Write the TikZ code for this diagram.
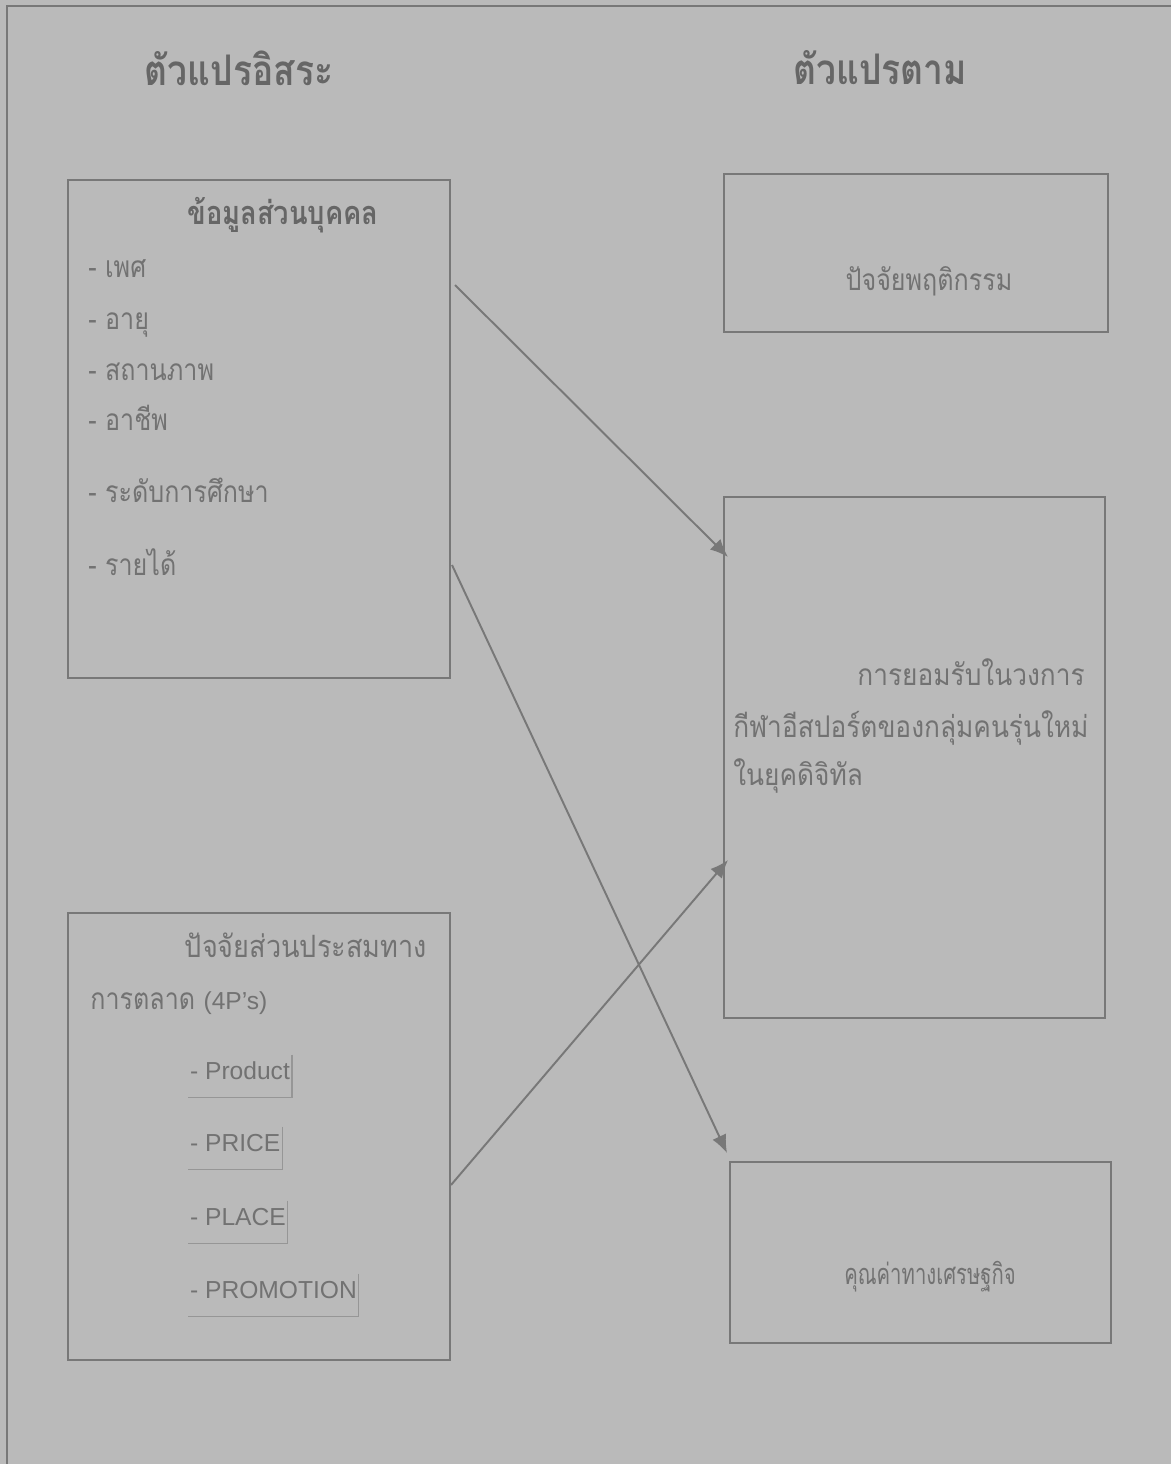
\documentclass[tikz,border=0pt]{standalone}
\usepackage{fontspec}
\setmainfont{Liberation Sans}
\newfontfamily\thaifont[Script=Thai, FakeStretch=0.84]{Loma}
\newfontfamily\thaiopen[Script=Thai, FakeStretch=0.88]{Loma}
\newfontfamily\thainarrow[Script=Thai, FakeStretch=0.7]{Loma}
\usetikzlibrary{arrows.meta}
\definecolor{paper}{RGB}{186,186,186}
\definecolor{edge}{RGB}{120,120,120}
\definecolor{ink}{RGB}{114,114,114}
\definecolor{inkdark}{RGB}{102,102,102}
\definecolor{field}{RGB}{150,150,150}

\tikzset{
	box/.style={draw=edge, line width=1.5pt, inner sep=0pt},
	arrowline/.style={draw=edge, line width=1.1pt, -{Latex[length=0.36cm,width=0.3cm]}},
	heading/.style={text=inkdark, font=\thaifont\bfseries\fontsize{24}{29}\selectfont},
	subheading/.style={text=inkdark, font=\thaifont\bfseries\fontsize{18.5}{22}\selectfont},
	thaitext/.style={text=ink, font=\thaifont\fontsize{17}{21}\selectfont, inner sep=0pt, text height=14pt, text depth=5pt},
	opentext/.style={thaitext, font=\thaiopen\fontsize{17}{21}\selectfont},
	mixitem/.style={text=ink, font=\fontsize{14}{17}\selectfont, anchor=west, inner xsep=1pt, inner ysep=4pt, text height=10pt, text depth=6pt},
	fieldline/.style={draw=field, line width=0.6pt}
}

\begin{document}
\begin{tikzpicture}[x=0.02cm, y=-0.02cm]
\useasboundingbox (0,0) rectangle (1171,1464);
\fill[paper] (0,0) rectangle (1171,1464);
\draw[edge, line width=1.4pt] (7,1464) -- (7,6) -- (1171,6);

\node[heading] (indep) at (239,68) {ตัวแปรอิสระ};
\node[heading] (dep) at (880,68) {ตัวแปรตาม};

\node[box, minimum width=7.64cm, minimum height=9.96cm] (personal) at (259,429) {};
\node[box, minimum width=7.64cm, minimum height=8.94cm] (mix) at (259,1136.5) {};
\node[box, minimum width=7.68cm, minimum height=3.16cm] (behavior) at (916,253) {};
\node[box, minimum width=7.62cm, minimum height=10.42cm] (accept) at (914.5,757.5) {};
\node[box, minimum width=7.62cm, minimum height=3.62cm] (value) at (920.5,1252.5) {};

\node[subheading] (personaltitle) at (283,215) {ข้อมูลส่วนบุคคล};
\foreach \y/\t in {270/เพศ, 322/อายุ, 373/สถานภาพ, 423/อาชีพ, 495/ระดับการศึกษา, 568/รายได้}{
	\node[thaitext, anchor=west] (item\y) at (88,\y) {- \t};
}

\node[opentext, font=\thaiopen\fontsize{17.5}{21}\selectfont, anchor=east] (mixline1) at (427,950) {ปัจจัยส่วนประสมทาง};
\node[thaitext, anchor=west] (mixline2) at (90,1002) {การตลาด {\rmfamily\fontsize{14}{17}\selectfont (4P’s)}};
\foreach \y/\t in {1076/Product, 1148/PRICE, 1222/PLACE, 1295/PROMOTION}{
	\node[mixitem] (m\t) at (188,\y) {- \t};
	\draw[fieldline] (m\t.north east) -- (m\t.south east) -- (m\t.south west);
}

\node[thaitext] (behaviortext) at (929,283) {ปัจจัยพฤติกรรม};
\node[opentext, anchor=east] (acceptline1) at (1085,678) {การยอมรับในวงการ};
\node[opentext, anchor=west] (acceptline2) at (733,730) {กีฬาอีสปอร์ตของกลุ่มคนรุ่นใหม่};
\node[opentext, anchor=west] (acceptline3) at (733,778) {ในยุคดิจิทัล};
\node[thaitext, font=\thainarrow\fontsize{16.5}{20}\selectfont] (valuetext) at (930,1277) {คุณค่าทางเศรษฐกิจ};

\coordinate (a1s) at (455,285);
\coordinate (a1e) at (728,557);
\coordinate (a2s) at (452,565);
\coordinate (a2e) at (727,1153);
\coordinate (a3s) at (451,1185);
\coordinate (a3e) at (728,860);
\draw[arrowline] (a1s) -- (a1e);
\draw[arrowline] (a2s) -- (a2e);
\draw[arrowline] (a3s) -- (a3e);
\end{tikzpicture}
\end{document}
